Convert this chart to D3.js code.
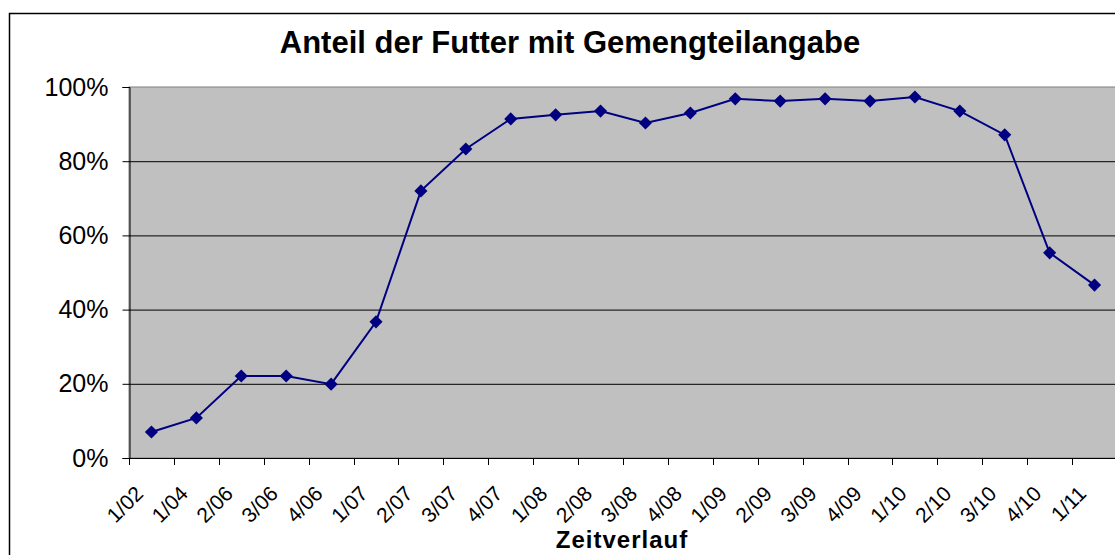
<!DOCTYPE html>
<html>
<head>
<meta charset="utf-8">
<script src="https://cdn.jsdelivr.net/npm/d3@7"></script>
<style>
  body { margin: 0; background: #fff; }
  svg { display: block; font-family: "Liberation Sans", Arial, sans-serif; }
</style>
</head>
<body>
<svg width="1115" height="555"></svg>
<script>
// data
var categories = ["1/02","1/04","2/06","3/06","4/06","1/07","2/07","3/07","4/07","1/08","2/08",
  "3/08","4/08","1/09","2/09","3/09","4/09","1/10","2/10","3/10","4/10","1/11"];
var shares = [7.0, 10.8, 22.1, 22.1, 19.9, 36.7, 72.0, 83.3, 91.4, 92.5, 93.5,
  90.3, 93.0, 96.8, 96.2, 96.8, 96.2, 97.3, 93.5, 87.1, 55.3, 46.6];
var yTicks = [0, 20, 40, 60, 80, 100];

var svg = d3.select("svg");
var width = +svg.attr("width"),
height = +svg.attr("height");

var plot = {left: 129, top: 87, right: 1117, bottom: 458};

// outer chart frame (cut off at right/bottom like the original)
svg.append("rect")
.attr("x", 9.5).attr("y", 13.5)
.attr("width", 1200).attr("height", 600)
.attr("fill", "#fff")
.attr("stroke", "#000")
.attr("stroke-width", 1.5);

var x = d3.scaleBand()
.domain(categories)
.range([plot.left, plot.right]);

var y = d3.scaleLinear()
.domain([0, 100])
.range([plot.bottom, plot.top]);

svg.append("rect")
.attr("x", plot.left).attr("y", plot.top)
.attr("width", plot.right - plot.left).attr("height", plot.bottom - plot.top)
.attr("fill", "#c0c0c0")
.attr("stroke", "#808080");

// gridlines
svg.append("g")
.selectAll("line")
.data(yTicks.filter(function(d) { return d > 0 && d < 100; }))
.enter().append("line")
.attr("x1", plot.left).attr("x2", plot.right)
.attr("y1", function(d) { return y(d) + 0.5; })
.attr("y2", function(d) { return y(d) + 0.5; })
.attr("stroke", "#000")
.attr("stroke-width", 1);

// y axis
var yAxis = svg.append("g")
.attr("transform", "translate(" + (plot.left + 0.5) + ",0)")
.call(d3.axisLeft(y).tickValues(yTicks).tickSize(7).tickPadding(14)
  .tickFormat(function(d) { return d + "%"; }));
yAxis.select(".domain").attr("stroke", "#000");
yAxis.selectAll("text").attr("font-size", 25).attr("fill", "#000")
.attr("font-family", "'Liberation Sans', Arial, sans-serif");

// x axis: ticks between categories
var bounds = categories.map(function(c) { return x(c); });
var xg = svg.append("g");
xg.append("line")
.attr("x1", plot.left).attr("x2", plot.right)
.attr("y1", plot.bottom + 0.5).attr("y2", plot.bottom + 0.5)
.attr("stroke", "#000");
xg.selectAll("line.tick")
.data(bounds)
.enter().append("line")
.attr("class", "tick")
.attr("x1", function(d) { return Math.round(d) + 0.5; })
.attr("x2", function(d) { return Math.round(d) + 0.5; })
.attr("y1", plot.bottom).attr("y2", plot.bottom + 7)
.attr("stroke", "#000");

xg.selectAll("text")
.data(categories)
.enter().append("text")
.attr("transform", function(d) {
  return "translate(" + (x(d) + x.bandwidth() / 2 - 7) + "," + (plot.bottom + 37) + ") rotate(-45)";
})
.attr("text-anchor", "end")
.attr("font-size", 21)
.text(function(d) { return d; });

// series line
var line = d3.line()
.x(function(d, i) { return x(categories[i]) + x.bandwidth() / 2; })
.y(function(d) { return y(d); });

svg.append("path")
.datum(shares)
.attr("d", line)
.attr("fill", "none")
.attr("stroke", "#000080")
.attr("stroke-width", 2);

svg.append("g")
.selectAll("path")
.data(shares)
.enter().append("path")
.attr("d", d3.symbol().type(d3.symbolDiamond2).size(110))
.attr("transform", function(d, i) {
  return "translate(" + (x(categories[i]) + x.bandwidth() / 2) + "," + y(d) + ")";
})
.attr("fill", "#000080");

// titles
svg.append("text")
.attr("x", 570).attr("y", 53)
.attr("text-anchor", "middle")
.attr("font-size", 31)
.attr("font-weight", "bold")
.text("Anteil der Futter mit Gemengteilangabe");

svg.append("text")
.attr("x", (plot.left + 1115) / 2).attr("y", 548)
.attr("text-anchor", "middle")
.attr("font-size", 24)
.attr("font-weight", "bold")
.attr("letter-spacing", 1)
.text("Zeitverlauf");
</script>
</body>
</html>
